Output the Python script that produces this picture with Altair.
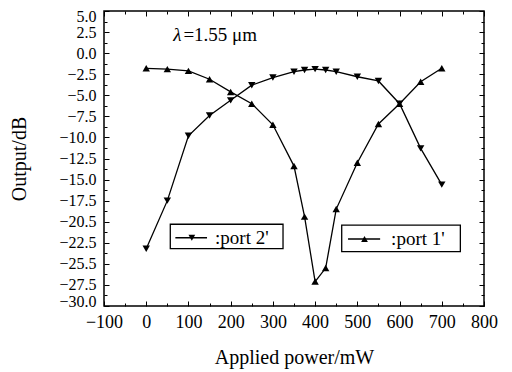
import altair as alt
import pandas as pd

# ---- data ----
power_mw = [0, 50, 100, 150, 200, 250, 300, 350, 375, 400, 425, 450, 500, 550, 600, 650, 700]
port1_db = [-1.8, -1.9, -2.1, -3.1, -4.6, -6.0, -8.5, -13.4, -19.4, -27.1, -25.5, -18.5, -13.0, -8.4, -6.0, -3.4, -1.8]
port2_db = [-23.2, -17.5, -9.8, -7.4, -5.6, -3.8, -2.9, -2.2, -2.0, -1.9, -2.0, -2.2, -2.8, -3.3, -6.0, -11.3, -15.6]
series_names = ["port 1'", "port 2'"]

x_ticks = [-100, 0, 100, 200, 300, 400, 500, 600, 700, 800]
x_minor = [-50, 50, 150, 250, 350, 450, 550, 650, 750]
y_ticks = [5.0, 2.5, 0.0, -2.5, -5.0, -7.5, -10.0, -12.5, -15.0, -17.5, -20.0, -22.5, -25.0, -27.5, -30.0]
y_labels = ["5.0", "2.5", "0.0", "\u22122.5", "\u22125.0", "\u22127.5", "\u221210.0", "\u221212.5",
            "\u221215.0", "\u221217.5", "\u221220.5", "\u221222.5", "\u221225.5", "\u221227.5", "\u221230.0"]
y_minor = [3.75, 1.25, -1.25, -3.75, -6.25, -8.75, -11.25, -13.75, -16.25, -18.75, -21.25, -23.75, -26.25, -28.75]

legend_labels = [":port 2'", ":port 1'"]
legend_series = ["port 2'", "port 1'"]
lambda_symbol = "\u03bb"
annotation_text = "=1.55 \u03bcm"

# ---- tables ----
n = len(power_mw)
df = pd.DataFrame({
    "power": power_mw * 2,
    "output": port1_db + port2_db,
    "series": [series_names[0]] * n + [series_names[1]] * n,
})

leg = pd.DataFrame({
    "label": legend_labels,
    "series": legend_series,
    "bx1": [57, 463], "bx2": [324, 744],
    "by1": [-20.3, -20.4], "by2": [-23.2, -23.55],
    "lx1": [69, 478], "lx2": [144, 554],
    "ly": [-21.9, -22.05],
    "mx": [108, 517],
    "tx": [163, 580],
})
ann1 = pd.DataFrame({"x": [64], "y": [2.15], "t": [lambda_symbol]})
ann2 = pd.DataFrame({"x": [88], "y": [2.15], "t": [annotation_text]})

W, H = 380, 295
FONT = "Liberation Serif"

xs = alt.Scale(domain=[-100, 800], nice=False, zero=False)
ys = alt.Scale(domain=[-30, 5], nice=False, zero=False)
shape_scale = alt.Scale(domain=series_names, range=["triangle-up", "triangle-down"])

label_expr = "[" + ",".join("'" + s + "'" for s in y_labels) + "][round((5 - datum.value) / 2.5)]"


def tick_axis(orient, offset, values, size):
    return alt.Axis(orient=orient, offset=offset, values=values, tickSize=size, labels=False,
                    domain=False, grid=False, title=None, ticks=True, tickColor="black", tickWidth=1)


x_label_axis = alt.Axis(orient="bottom", values=x_ticks, ticks=False, domain=False, grid=False,
                        title="Applied power/mW", labelPadding=7, titlePadding=16, format="d",
                        labelFlush=False, labelOverlap=False)
y_label_axis = alt.Axis(orient="left", values=y_ticks, ticks=False, domain=False, grid=False,
                        title="Output/dB", labelPadding=8, titlePadding=29, labelExpr=label_expr,
                        labelFontSize=16, labelFlush=True, labelFlushOffset=3, labelOverlap=False)

base = alt.Chart(df)

lines = base.mark_line(color="black", strokeWidth=1.3).encode(
    x=alt.X("power:Q", scale=xs, axis=x_label_axis),
    y=alt.Y("output:Q", scale=ys, axis=y_label_axis),
    detail="series:N",
)

points = base.mark_point(filled=True, color="black", size=55, opacity=1).encode(
    x=alt.X("power:Q", scale=xs, axis=tick_axis("top", -H, x_ticks, 5)),
    y=alt.Y("output:Q", scale=ys, axis=tick_axis("right", -W, y_ticks, 5)),
    shape=alt.Shape("series:N", scale=shape_scale, legend=None),
)


def ghost(xaxis, yaxis):
    return base.mark_point(opacity=0).encode(
        x=alt.X("power:Q", scale=xs, axis=xaxis),
        y=alt.Y("output:Q", scale=ys, axis=yaxis),
    )


g1 = ghost(tick_axis("top", -H, x_minor, 3), tick_axis("right", -W, y_minor, 3))
g2 = ghost(tick_axis("bottom", -H, x_ticks, 5), tick_axis("left", -W, y_ticks, 5))
g3 = ghost(tick_axis("bottom", -H, x_minor, 3), tick_axis("left", -W, y_minor, 3))

lb = alt.Chart(leg)
boxes = lb.mark_rect(fill="white", stroke="black", strokeWidth=1.3).encode(
    x=alt.X("bx1:Q", scale=xs, axis=None), x2="bx2:Q",
    y=alt.Y("by1:Q", scale=ys, axis=None), y2="by2:Q",
)
leg_lines = lb.mark_rule(color="black", strokeWidth=1.3).encode(
    x=alt.X("lx1:Q", scale=xs, axis=None), x2="lx2:Q",
    y=alt.Y("ly:Q", scale=ys, axis=None),
)
leg_marks = lb.mark_point(filled=True, color="black", size=45, opacity=1).encode(
    x=alt.X("mx:Q", scale=xs, axis=None),
    y=alt.Y("ly:Q", scale=ys, axis=None),
    shape=alt.Shape("series:N", scale=shape_scale, legend=None),
)
leg_text = lb.mark_text(align="left", baseline="middle", font=FONT, fontSize=19, color="black").encode(
    x=alt.X("tx:Q", scale=xs, axis=None),
    y=alt.Y("ly:Q", scale=ys, axis=None),
    text="label:N",
)


def ann_layer(d, style):
    return alt.Chart(d).mark_text(align="left", baseline="middle", font=FONT, fontSize=19,
                                  fontStyle=style, color="black").encode(
        x=alt.X("x:Q", scale=xs, axis=None),
        y=alt.Y("y:Q", scale=ys, axis=None),
        text="t:N",
    )


chart = alt.layer(lines, points, g1, g2, g3, boxes, leg_lines, leg_marks, leg_text,
                  ann_layer(ann1, "italic"), ann_layer(ann2, "normal")).resolve_axis(
    x="independent", y="independent"
).properties(
    width=W, height=H,
    autosize=alt.AutoSizeParams(type="none"),
    padding={"left": 96, "top": 3, "right": 20, "bottom": 63},
    background="white",
).configure_view(
    stroke="black", strokeWidth=1.5
).configure_axis(
    labelFont=FONT, titleFont=FONT, labelFontSize=18, titleFontSize=20,
    labelColor="black", titleColor="black", titleFontWeight="normal",
)

chart.save("out.html", embed_options={"renderer": "svg", "actions": False})
